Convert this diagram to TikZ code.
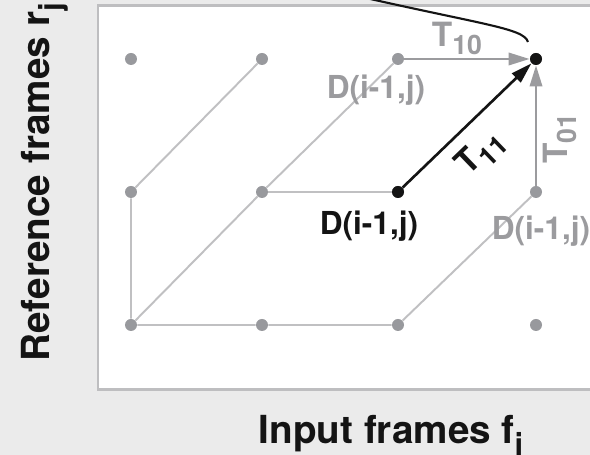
\documentclass[tikz,border=0pt]{standalone}
\usepackage{graphicx}
\usepackage{fontspec}
\setmainfont{TeX Gyre Heros}
\usetikzlibrary{arrows.meta,calc,positioning}
\definecolor{PaperGray}{RGB}{235,235,235}
\definecolor{FrameGray}{RGB}{190,190,192}
\definecolor{LineGray}{RGB}{192,192,194}
\definecolor{DotGray}{RGB}{152,153,157}
\definecolor{PathGray}{RGB}{155,155,158}
\definecolor{InkBlack}{RGB}{20,20,20}
\newcommand{\lowsub}[2][0.25em]{\raisebox{-#1}{\scalebox{0.8}{#2}}}

\begin{document}
\begin{tikzpicture}[>={Triangle[length=12pt,width=7pt]},
  gdot/.style={circle,fill=DotGray,inner sep=0pt,minimum size=0.24cm},
  bdot/.style={gdot,fill=InkBlack},
  link/.style={LineGray,line width=1.1pt},
  move/.style={->,line width=1.5pt,PathGray},
  dlab/.style={font=\fontsize{18}{20}\selectfont\bfseries,inner sep=0pt},
  tlab/.style={font=\fontsize{19}{21}\selectfont\bfseries,inner sep=0pt},
  axislab/.style={font=\fontsize{22}{24}\selectfont\bfseries,InkBlack}]
  \useasboundingbox (-2.62,-2.6) rectangle (9.18,6.5);
  \clip (-2.62,-2.6) rectangle (9.18,6.5);
  \fill[PaperGray] (-2.62,-2.6) rectangle (9.18,6.5);
  \draw[FrameGray,line width=1.7pt,fill=white] (-0.66,-1.3) rectangle (9.5,6.39);

  % grid of cells D(i,j)
  \foreach \c/\x in {0/0,1/2.62,2/5.34,3/8.10}
    \foreach \r/\y in {0/0,1/2.66,2/5.32}
      \node[gdot] (n\c\r) at (\x,\y) {};
  \node[bdot] (cur) at (n32) {};
  \node[bdot] (diag) at (n21) {};

  \draw[link] (n12) -- (n01) -- (n00) -- (n10) -- (n20) -- (n31);
  \draw[link] (n00) -- (n11) -- (n22);
  \draw[link] (n11) -- (diag);

  % the three moves into D(i,j)
  \draw[move] (n22) -- (cur) node[tlab,pos=0.42,above=0.06cm] {T\lowsub{10}};
  \draw[move] (n31) -- (cur) node[tlab,pos=0.39,sloped,below=0.12cm] {T\lowsub{01}};
  \draw[move,InkBlack] (diag) -- (cur) node[tlab,pos=0.45,sloped,below=0.24cm] {T\lowsub{11}};

  \node[dlab,PathGray,below=0.18cm of n22,xshift=-0.44cm] (lab22) {D(i-1,j)};
  \node[dlab,InkBlack,below=0.24cm of diag,xshift=-0.58cm] (labdiag) {D(i-1,j)};
  \node[dlab,PathGray,below=0.34cm of n31,xshift=0.1cm] (lab31) {D(i-1,j)};

  % leader line
  \coordinate (lead) at (4.0,6.7);
  \coordinate (leadend) at ($(cur)+(-0.16,0.34)$);
  \draw[InkBlack,line width=1.2pt] (lead) .. controls (7.0,6.0) and (7.85,5.95) .. (leadend);

  \node[axislab,rotate=90,anchor=base] (ylab) at (-1.62,2.86) {Reference frames r\lowsub[0.3em]{j}};
  \node[axislab,anchor=base] (xlab) at (5.2,-2.38) {Input frames f\lowsub[0.3em]{i}};
\end{tikzpicture}
\end{document}
